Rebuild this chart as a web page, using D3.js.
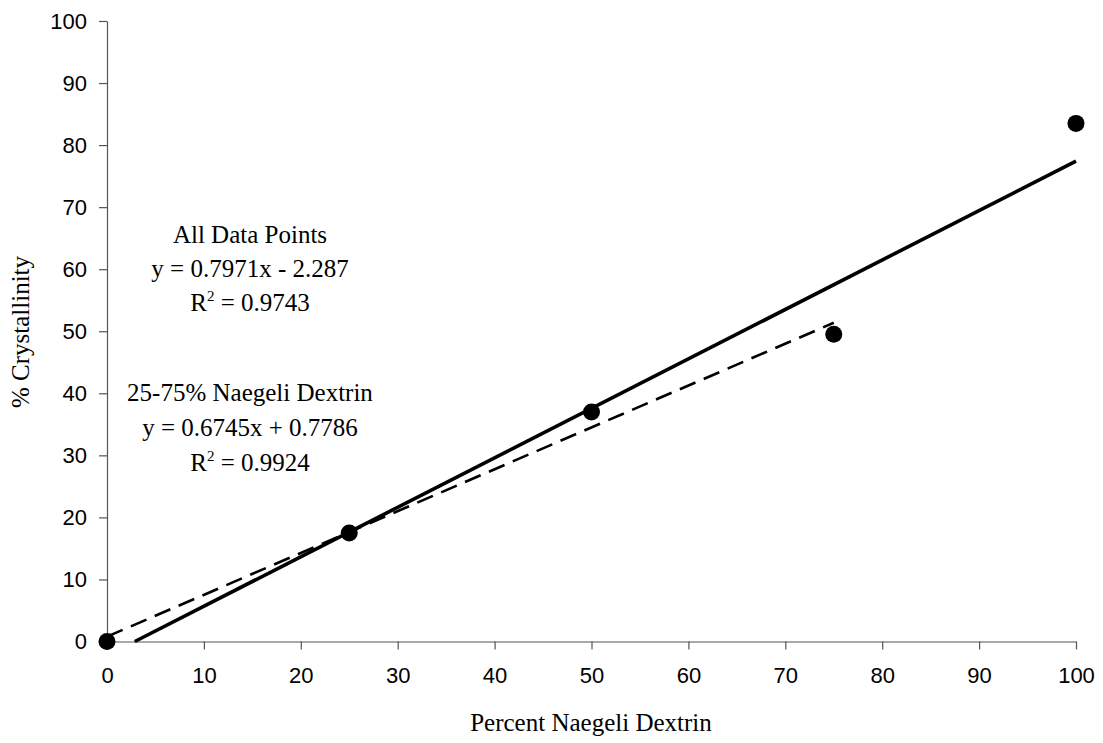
<!DOCTYPE html>
<html>
<head>
<meta charset="utf-8">
<script src="https://cdn.jsdelivr.net/npm/d3@7"></script>
<style>
  html, body { margin: 0; padding: 0; background: #fff; }
  svg { display: block; }
</style>
</head>
<body>
<svg id="chart" width="1103" height="743"></svg>
<script>
// ---- data ----
const naegeliPercent = [0, 25, 50, 75, 100];
const crystallinity = [0, 17.5, 37, 49.5, 83.5];
const xTicks = [0, 10, 20, 30, 40, 50, 60, 70, 80, 90, 100];
const yTicks = [0, 10, 20, 30, 40, 50, 60, 70, 80, 90, 100];
// trend lines: [slope, intercept], x-range
const fitAll = [0.7971, -2.287];
const fitAllRange = [2.87, 100];
const fitSub = [0.6745, 0.7786];
const fitSubRange = [0, 75];
const labelAll = ["All Data Points", "y = 0.7971x - 2.287", "0.9743"];
const labelSub = ["25-75% Naegeli Dextrin", "y = 0.6745x + 0.7786", "0.9924"];

// ---- layout ----
const svg = d3.select("#chart");
const x = d3.scaleLinear().domain([0, 100]).range([107, 1076]);
const y = d3.scaleLinear().domain([0, 100]).range([641.5, 21]);
const sansFont = "'Liberation Sans', Arial, sans-serif";
const serifFont = "'Liberation Serif', 'Times New Roman', serif";

// axes
const yAxis = svg.append("g")
  .attr("transform", `translate(${x(0)},0)`)
  .call(d3.axisLeft(y).tickValues(yTicks).tickSize(8).tickPadding(12).tickSizeOuter(0));
const xAxis = svg.append("g")
  .attr("transform", `translate(0,${y(0)})`)
  .call(d3.axisBottom(x).tickValues(xTicks).tickSize(8).tickPadding(18).tickSizeOuter(0));
[xAxis, yAxis].forEach(g => {
  g.select(".domain").attr("stroke", "#555").attr("stroke-width", 1.2);
  g.selectAll(".tick line").attr("stroke", "#555").attr("stroke-width", 1.2);
  g.selectAll(".tick text").attr("fill", "#000")
    .style("font-family", sansFont).style("font-size", "22px");
});

// trend lines
const line = d3.line().x(d => x(d[0])).y(d => y(d[1]));
function fitPts(fit, range) {
  return range.map(v => [v, fit[0] * v + fit[1]]);
}
svg.append("path")
  .attr("d", line(fitPts(fitSub, fitSubRange)))
  .attr("fill", "none").attr("stroke", "#000")
  .attr("stroke-width", 2.6).attr("stroke-dasharray", "17,9");
svg.append("path")
  .attr("d", line(fitPts(fitAll, fitAllRange)))
  .attr("fill", "none").attr("stroke", "#000")
  .attr("stroke-width", 3.6);

// points
svg.append("g").selectAll("circle")
  .data(naegeliPercent.map((v, i) => [v, crystallinity[i]]))
  .join("circle")
  .attr("cx", d => x(d[0])).attr("cy", d => y(d[1]))
  .attr("r", 8.5).attr("fill", "#000");

// annotations
function block(lines, cx, y0, dy) {
  const g = svg.append("g").style("font-family", serifFont).style("font-size", "25px")
    .attr("text-anchor", "middle").attr("fill", "#000");
  g.append("text").attr("x", cx).attr("y", y0).text(lines[0]);
  g.append("text").attr("x", cx).attr("y", y0 + dy).text(lines[1]);
  const t = g.append("text").attr("x", cx).attr("y", y0 + 2 * dy);
  t.append("tspan").text("R");
  t.append("tspan").attr("dy", -10).style("font-size", "15px").text("2");
  t.append("tspan").attr("dy", 10).text(" = " + lines[2]);
}
block(labelAll, 250, 243, 34);
block(labelSub, 250, 401, 35);

// axis titles
svg.append("text")
  .attr("x", 591).attr("y", 731)
  .attr("text-anchor", "middle")
  .style("font-family", serifFont).style("font-size", "25px")
  .text("Percent Naegeli Dextrin");
svg.append("text")
  .attr("transform", "translate(29,332) rotate(-90)")
  .attr("text-anchor", "middle")
  .style("font-family", serifFont).style("font-size", "25px")
  .text("% Crystallinity");
</script>
</body>
</html>
